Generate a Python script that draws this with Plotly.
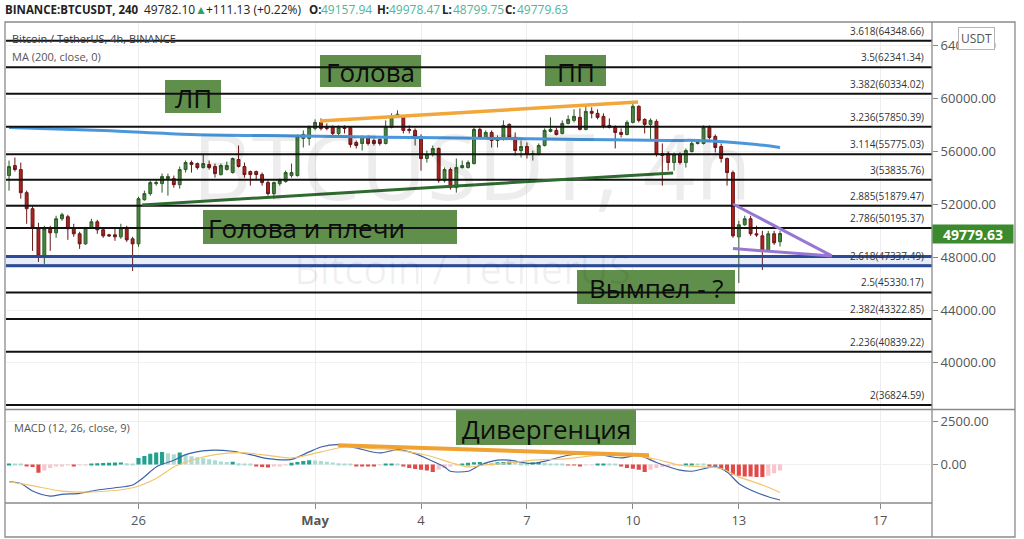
import plotly.graph_objects as go
import pandas as pd

# ---------------- data ----------------
times = pd.date_range("2021-04-22 08:00", periods=132, freq="4h")

open_ = [54158, 54917, 54613, 52868, 51655, 50213, 48089, 50137, 49834, 50896,
         51048, 50213, 49758, 48999, 50213, 50668, 50061, 49682, 49682, 49530,
         50213, 49378, 48999, 52337, 52793, 53551, 53551, 53930, 53930, 53475,
         54613, 55144, 55068, 54765, 54993, 54841, 54234, 54613, 54386, 55372,
         54841, 54462, 54462, 54234, 53627, 52793, 53551, 53703, 54158, 54158,
         56965, 56965, 57724, 58179, 57800, 57800, 57345, 57800, 57800, 56662,
         56586, 57117, 56813, 56889, 56586, 57800, 58710, 58558, 57648, 57572,
         57117, 55448, 55751, 56207, 53779, 54613, 53248, 54765, 54765, 55068,
         57648, 57041, 57420, 56813, 56889, 58027, 57041, 56055, 56358, 55751,
         55751, 56434, 57496, 57572, 57345, 58103, 58331, 58558, 57648, 59014,
         58862, 58634, 57951, 57800, 57420, 57269, 58179, 59393, 58407, 58027,
         58255, 55827, 55827, 55144, 55751, 55144, 55979, 56586, 56586, 57800,
         57117, 56358, 55448, 54386, 49530, 50441, 50896, 49758, 49606, 48468,
         49758, 49157.94]
high = [55296, 55524, 55144, 53020, 51882, 50592, 50365, 50365, 51123, 51351,
        51199, 50517, 49910, 50289, 50896, 50820, 50213, 49758, 50213, 50517,
        50365, 49530, 52565, 53020, 53779, 53855, 54310, 54310, 54158, 54841,
        55296, 55296, 55144, 55827, 55296, 55068, 55068, 55220, 55524, 56434,
        55144, 54537, 54537, 54386, 53779, 53703, 53930, 54537, 55068, 57269,
        57572, 57951, 58407, 58483, 58103, 57951, 57951, 57951, 57876, 56813,
        57193, 57193, 56965, 56965, 58331, 58862, 59090, 58710, 57951, 57724,
        57269, 56055, 56434, 56282, 54765, 54765, 55448, 55296, 55296, 57800,
        57800, 57572, 57572, 57193, 58331, 58103, 57420, 56813, 56662, 56055,
        56586, 57724, 58558, 57800, 58331, 58710, 59165, 59241, 59469, 59317,
        59165, 58862, 58483, 57951, 57724, 58331, 59621, 59469, 58483, 58483,
        58407, 56586, 55979, 55903, 55903, 56207, 56813, 56813, 57951, 57951,
        57269, 56586, 55524, 54537, 50744, 51123, 51123, 50365, 49985, 49985,
        49985, 49978.47]
low = [53020, 54462, 52413, 50517, 48468, 47634, 47482, 48468, 49454, 50744,
       49303, 49530, 48620, 48923, 50137, 49758, 49454, 49530, 49227, 49378,
       49151, 46950, 48772, 52261, 52641, 53399, 52868, 52641, 53248, 53172,
       54386, 54386, 54613, 54689, 54613, 54006, 54158, 54537, 54310, 54765,
       54006, 53399, 53779, 53399, 52641, 52413, 53399, 53627, 54006, 54082,
       56282, 56434, 57572, 57572, 57572, 57041, 57193, 57345, 56282, 56207,
       56055, 56434, 56434, 56434, 56510, 57724, 58558, 57345, 57345, 56434,
       54537, 55144, 55600, 53627, 53627, 53096, 52868, 54689, 54689, 54993,
       56965, 56965, 56282, 56282, 56813, 56889, 55675, 55524, 55448, 55296,
       55675, 56358, 57420, 57193, 57269, 58027, 58179, 57572, 57572, 58483,
       58407, 57724, 57724, 56207, 57041, 57193, 58103, 58179, 57345, 56813,
       55600, 53399, 54537, 54537, 54993, 54765, 55903, 56510, 56510, 56889,
       55903, 55144, 53399, 49454, 46040, 50365, 49606, 49530, 47027, 48392,
       48923, 48799.75]
close = [54841, 54613, 52868, 51655, 50289, 48089, 50137, 49834, 50896, 51199,
         50137, 49758, 48999, 50213, 50668, 50061, 49606, 49606, 49530, 50213,
         49303, 48999, 52413, 52793, 53627, 53627, 54082, 54082, 53475, 54613,
         55144, 54993, 54765, 55068, 54765, 54310, 54917, 54917, 55448, 54841,
         54234, 54234, 54234, 53627, 52793, 53627, 53779, 54386, 54386, 57117,
         57269, 57800, 58179, 57724, 57724, 57345, 57800, 57724, 56510, 56434,
         57117, 56586, 56586, 56586, 57876, 58634, 58786, 57572, 57572, 57117,
         55448, 55751, 56207, 53779, 54613, 53248, 54765, 54917, 55144, 57648,
         57041, 57420, 56813, 56965, 57951, 57041, 56055, 56358, 55751, 55827,
         56434, 57572, 57648, 57269, 58103, 58407, 58634, 57648, 59014, 58862,
         58558, 57876, 57800, 57420, 57269, 58179, 59393, 58331, 58027, 58331,
         55751, 55675, 55144, 55751, 55144, 56055, 56586, 56662, 57800, 57041,
         56282, 55448, 54386, 49606, 50441, 50896, 49758, 49682, 48468, 49758,
         49075, 49779.63]

ma_dates = ["2021-04-22 08:00", "2021-04-25 00:00", "2021-04-27 12:00", "2021-04-30 12:00",
            "2021-05-03 00:00", "2021-05-06 04:00", "2021-05-08 12:00", "2021-05-11 00:00",
            "2021-05-11 20:00", "2021-05-12 16:00", "2021-05-13 12:00", "2021-05-14 04:00"]
ma_vals = [57800, 57572, 57269, 57155, 57064, 56965, 56889, 56813, 56813, 56700, 56510, 56282]

macd_dates = ["2021-04-22 08:00", "2021-04-22 16:00", "2021-04-23 00:00", "2021-04-23 12:00",
              "2021-04-23 20:00", "2021-04-24 08:00", "2021-04-24 20:00", "2021-04-25 08:00",
              "2021-04-25 20:00", "2021-04-26 04:00", "2021-04-26 12:00", "2021-04-27 00:00",
              "2021-04-27 08:00", "2021-04-28 00:00", "2021-04-28 16:00", "2021-04-29 04:00",
              "2021-04-29 16:00", "2021-04-30 08:00", "2021-04-30 20:00", "2021-05-01 04:00",
              "2021-05-01 16:00", "2021-05-02 04:00", "2021-05-02 20:00", "2021-05-03 08:00",
              "2021-05-03 20:00", "2021-05-04 04:00", "2021-05-04 16:00", "2021-05-04 20:00",
              "2021-05-05 08:00", "2021-05-05 16:00", "2021-05-06 04:00", "2021-05-06 12:00",
              "2021-05-07 04:00", "2021-05-08 04:00", "2021-05-08 20:00", "2021-05-09 16:00",
              "2021-05-10 04:00", "2021-05-10 16:00", "2021-05-11 08:00", "2021-05-11 16:00",
              "2021-05-12 08:00", "2021-05-12 16:00", "2021-05-13 00:00", "2021-05-13 08:00",
              "2021-05-13 20:00", "2021-05-14 04:00"]
macd_vals = [-1000, -1100, -1540, -1830, -1730, -1670, -1480, -1350, -1190, -715,
             -140, 250, 575, 825, 770, 575, 345, 300, 730, 1015,
             1150, 960, 670, 865, 635, 345, -140, -390, -390, -40,
             250, 250, 58, 535, 635, 380, 535, 115, -330, -390,
             -140, -430, -1100, -1480, -1870, -2060]

signal_dates = ["2021-04-22 08:00", "2021-04-23 00:00", "2021-04-23 20:00", "2021-04-24 20:00",
                "2021-04-25 20:00", "2021-04-26 12:00", "2021-04-27 00:00", "2021-04-27 12:00",
                "2021-04-28 04:00", "2021-04-28 20:00", "2021-04-29 16:00", "2021-04-30 08:00",
                "2021-05-01 04:00", "2021-05-01 20:00", "2021-05-02 16:00", "2021-05-03 08:00",
                "2021-05-04 04:00", "2021-05-04 20:00", "2021-05-05 08:00", "2021-05-05 20:00",
                "2021-05-06 16:00", "2021-05-07 04:00", "2021-05-08 04:00", "2021-05-09 00:00",
                "2021-05-10 00:00", "2021-05-10 16:00", "2021-05-11 08:00", "2021-05-12 00:00",
                "2021-05-12 12:00", "2021-05-13 00:00", "2021-05-13 16:00", "2021-05-14 04:00"]
signal_vals = [-1000, -1230, -1540, -1580, -1350, -810, -140, 250, 575, 690,
               535, 380, 730, 1015, 920, 825, 535, 115, -140, -20,
               130, 250, 345, 535, 535, 305, -40, -140, -230, -715,
               -1190, -1620]

hist_vals = [60, 50, 20, -60, -150, -480, -350, -200, -100, -60,
             -40, -80, -40, -20, 60, 80, 90, 100, 110, 120,
             80, 60, 380, 500, 620, 700, 720, 650, 600, 700,
             560, 480, 420, 360, 300, 240, 180, 150, 160, 80,
             40, 20, -100, -150, -170, -120, -60, -20, 100, 150,
             200, 250, 230, 200, 160, 120, 80, 40, 10, -60,
             -90, -100, -110, -50, 30, 60, 40, -100, -200, -260,
             -300, -350, -430, -300, -200, -120, -30, 60, 100, 130,
             150, 120, 100, 130, 150, 180, 150, 100, 60, 130,
             150, 100, 60, 40, 20, -20, -40, -60, -30, -10,
             10, 30, 20, 10, -100, -200, -250, -300, -430, -300,
             -200, -150, -100, -50, -20, 20, 40, 30, 10, -60,
             -120, -250, -430, -600, -650, -700, -700, -720, -730, -650,
             -500, -350]

fib_ratios = ["3.618", "3.5", "3.382", "3.236", "3.114", "3", "2.885", "2.786",
              "2.618", "2.5", "2.382", "2.236", "2"]
fib_prices = [64348.66, 62341.34, 60334.02, 57850.39, 55775.03, 53835.76, 51879.47,
              50195.37, 47337.49, 45330.17, 43322.85, 40839.22, 36824.59]
support_band = [47337.49, 48040]

head_dates = ["2021-05-01 03:20", "2021-05-10 03:30"]
head_prices = [58280, 59720]
neck_dates = ["2021-04-26 02:30", "2021-05-11 03:20"]
neck_prices = [51935, 54363]
pennant_dates = ["2021-05-12 20:00", "2021-05-15 15:10"]
pennant_upper = [52010, 48090]
pennant_lower = [48640, 48090]
div_dates = ["2021-05-01 15:40", "2021-05-10 11:00"]
div_vals = [1115, 537]

tick_dates = ["2021-04-26", "2021-05-01", "2021-05-04", "2021-05-07",
              "2021-05-10", "2021-05-13", "2021-05-17"]
tick_text = ["26", "<b>May</b>", "4", "7", "10", "13", "17"]
price_ticks = [40000, 44000, 48000, 52000, 56000, 60000, 64000]
macd_ticks = [0, 2500]

# ---------------- helpers (pixel -> paper) ----------------
def PX(x):
    return (x - 6) / 926.0

def PY(y):
    return (503 - y) / 481.0

FONT = "Open Sans"

# histogram colours (TradingView style)
hist_colors = []
prev = 0
for v in hist_vals:
    if v >= 0:
        hist_colors.append("#22a18f" if v >= prev else "#aadcd4")
    else:
        hist_colors.append("#e24a4a" if v <= prev else "#f9c4ca")
    prev = v

fig = go.Figure()

fig.add_trace(go.Candlestick(
    x=times, open=open_, high=high, low=low, close=close,
    increasing=dict(line=dict(color="#2c5a26", width=1), fillcolor="#4a8540"),
    decreasing=dict(line=dict(color="#6a1616", width=1), fillcolor="#ab2222"),
    xaxis="x", yaxis="y", showlegend=False, hoverinfo="skip"))

fig.add_trace(go.Scatter(x=ma_dates, y=ma_vals, mode="lines",
                         line=dict(color="#4a97dc", width=3, shape="spline"),
                         xaxis="x", yaxis="y", showlegend=False, hoverinfo="skip"))

fig.add_trace(go.Bar(x=times, y=hist_vals, marker=dict(color=hist_colors, line=dict(width=0)),
                     xaxis="x2", yaxis="y2", showlegend=False, hoverinfo="skip"))
fig.add_trace(go.Scatter(x=macd_dates, y=macd_vals, mode="lines",
                         line=dict(color="#3d62a8", width=1.2, shape="spline", smoothing=0.8),
                         xaxis="x2", yaxis="y2", showlegend=False, hoverinfo="skip"))
fig.add_trace(go.Scatter(x=signal_dates, y=signal_vals, mode="lines",
                         line=dict(color="#f2c46c", width=1.2, shape="spline", smoothing=0.8),
                         xaxis="x2", yaxis="y2", showlegend=False, hoverinfo="skip"))

shapes = []
# support band fill
shapes.append(dict(type="rect", xref="paper", yref="y", x0=0, x1=1,
                   y0=support_band[0], y1=support_band[1],
                   fillcolor="rgba(120,160,225,0.18)", line=dict(width=0), layer="below"))

# green label boxes
boxes = [(165, 80, 221, 113), (320, 55, 421, 87), (545, 55, 606, 86),
         (203, 210, 457, 244), (577, 270, 735, 304), (456, 410, 636, 445)]
for (x0, y0, x1, y1) in boxes:
    shapes.append(dict(type="rect", xref="paper", yref="paper",
                       x0=PX(x0), x1=PX(x1), y0=PY(y1), y1=PY(y0),
                       fillcolor="#5f8f4b", line=dict(width=0), layer="above"))

# fib lines
for p in fib_prices:
    shapes.append(dict(type="line", xref="paper", yref="y", x0=0, x1=1, y0=p, y1=p,
                       line=dict(color="#111111", width=2), layer="above"))
# blue support lines
for p in support_band:
    shapes.append(dict(type="line", xref="paper", yref="y", x0=0, x1=1, y0=p, y1=p,
                       line=dict(color="#2b4a98", width=3), layer="above"))

# trend lines
shapes.append(dict(type="line", xref="x", yref="y", x0=head_dates[0], x1=head_dates[1],
                   y0=head_prices[0], y1=head_prices[1],
                   line=dict(color="#f2a73a", width=3.5), layer="above"))
shapes.append(dict(type="line", xref="x", yref="y", x0=neck_dates[0], x1=neck_dates[1],
                   y0=neck_prices[0], y1=neck_prices[1],
                   line=dict(color="#2f6a30", width=3), layer="above"))
shapes.append(dict(type="line", xref="x", yref="y", x0=pennant_dates[0], x1=pennant_dates[1],
                   y0=pennant_upper[0], y1=pennant_upper[1],
                   line=dict(color="#9877d2", width=3), layer="above"))
shapes.append(dict(type="line", xref="x", yref="y", x0=pennant_dates[0], x1=pennant_dates[1],
                   y0=pennant_lower[0], y1=pennant_lower[1],
                   line=dict(color="#9877d2", width=3), layer="above"))
shapes.append(dict(type="line", xref="x2", yref="y2", x0=div_dates[0], x1=div_dates[1],
                   y0=div_vals[0], y1=div_vals[1],
                   line=dict(color="#f0a332", width=4), layer="above"))

# frame
frame = dict(color="#8a8a8a", width=1.3)
shapes.append(dict(type="rect", xref="paper", yref="paper", x0=PX(5), x1=PX(1015),
                   y0=PY(537), y1=PY(22), line=frame, layer="above"))
shapes.append(dict(type="line", xref="paper", yref="paper", x0=PX(932), x1=PX(932),
                   y0=PY(537), y1=PY(22), line=frame, layer="above"))
shapes.append(dict(type="line", xref="paper", yref="paper", x0=PX(5), x1=PX(1015),
                   y0=PY(409.5), y1=PY(409.5), line=frame, layer="above"))
shapes.append(dict(type="line", xref="paper", yref="paper", x0=PX(5), x1=PX(932),
                   y0=PY(503), y1=PY(503), line=frame, layer="above"))

ann = []
def text(x, y, s, size, color="#111", xanchor="center", bold=False, **kw):
    d = dict(xref="paper", yref="paper", x=PX(x), y=PY(y), text=("<b>%s</b>" % s) if bold else s,
             showarrow=False, xanchor=xanchor, yanchor="middle",
             font=dict(family=FONT, size=size, color=color))
    d.update(kw)
    ann.append(d)

# watermark
text(472, 165, "BTCUSDT, 4h", 92, color="rgba(0,0,0,0.07)")
text(462, 268, "Bitcoin / TetherUS", 40, color="rgba(0,0,0,0.06)")

# box labels
labels = ["ЛП", "Голова", "ПП", "Голова и плечи", "Вымпел - ?", "Дивергенция"]
for (x0, y0, x1, y1), s in zip(boxes, labels):
    if s == "Голова и плечи":
        text(x0 + 3, (y0 + y1) / 2 + 1, s, 26, color="#0d0d0d", xanchor="left")
    else:
        text((x0 + x1) / 2, (y0 + y1) / 2 + 1, s, 26, color="#0d0d0d")

# fib labels
for r, p in zip(fib_ratios, fib_prices):
    ann.append(dict(xref="paper", yref="y", x=PX(926), y=p, xanchor="right", yanchor="bottom",
                    yshift=1, showarrow=False, text="%s(%.2f)" % (r, p),
                    font=dict(family=FONT, size=10, color="#333")))

# header
hdr = [(3, "BINANCE:BTCUSDT, 240", "#222", True), (142, "49782.10", "#222", False),
       (193, "▲", "#2aa36a", False), (204, "+111.13 (+0.22%)", "#222", False),
       (307, "O:", "#222", True), (319, "49157.94", "#4fb59b", False),
       (375, "H:", "#222", True), (387, "49978.47", "#4fb59b", False),
       (440, "L:", "#222", True), (451, "48799.75", "#4fb59b", False),
       (503, "C:", "#222", True), (515, "49779.63", "#4fb59b", False)]
for x, s, c, b in hdr:
    text(x, 9, s, 11.5 if b else 12, color=c, xanchor="left", bold=b)

text(10, 38, "Bitcoin / TetherUS, 4h, BINANCE", 11, color="#3a3a3a", xanchor="left")
text(10, 56, "MA (200, close, 0)", 11, color="#555", xanchor="left")
text(12, 427, "MACD (12, 26, close, 9)", 11, color="#555", xanchor="left")

# USDT box and last price tag
text(976, 39, "USDT", 12, color="#555", bgcolor="white", bordercolor="#b5b5b5",
     borderwidth=1, borderpad=2)
text(973, 234, "49779.63", 14, color="white", bold=True, bgcolor="#3b8a2e",
     width=78, height=16, borderpad=1)

fig.update_layout(
    width=1024, height=539,
    margin=dict(l=6, r=92, t=22, b=36),
    paper_bgcolor="white", plot_bgcolor="white",
    font=dict(family=FONT, color="#555"),
    showlegend=False, hovermode=False, bargap=0.3,
    shapes=shapes, annotations=ann,
    xaxis=dict(domain=[0, 1], anchor="y", type="date",
               range=["2021-04-22 05:57", "2021-05-18 11:17"],
               tickvals=tick_dates, showticklabels=False, ticks="",
               showgrid=True, gridcolor="#ededed", zeroline=False, showline=False,
               rangeslider=dict(visible=False)),
    xaxis2=dict(domain=[0, 1], anchor="y2", type="date", matches="x",
                range=["2021-04-22 05:57", "2021-05-18 11:17"],
                tickvals=tick_dates, ticktext=tick_text, ticks="outside", ticklen=5,
                tickcolor="#888", tickfont=dict(size=13, color="#555", family=FONT),
                showgrid=True, gridcolor="#ededed", zeroline=False, showline=False),
    yaxis=dict(domain=[PY(409.5), 1], anchor="x", side="right",
               range=[36480, 65766], tickvals=price_ticks, tickformat=".2f",
               ticks="outside", ticklen=5, tickcolor="#888",
               tickfont=dict(size=13, color="#555", family=FONT),
               showgrid=True, gridcolor="#f1f1f1", zeroline=False, showline=False),
    yaxis2=dict(domain=[0, PY(410.5)], anchor="x2", side="right",
                range=[-2233, 3133], tickvals=macd_ticks, tickformat=".2f",
                ticks="outside", ticklen=5, tickcolor="#888",
                tickfont=dict(size=13, color="#555", family=FONT),
                showgrid=True, gridcolor="#efefef", zeroline=False, showline=False),
)

fig.write_html("out.html", config={"displayModeBar": False},
               post_script="document.body.style.margin='0px';document.body.style.overflow='hidden';")
